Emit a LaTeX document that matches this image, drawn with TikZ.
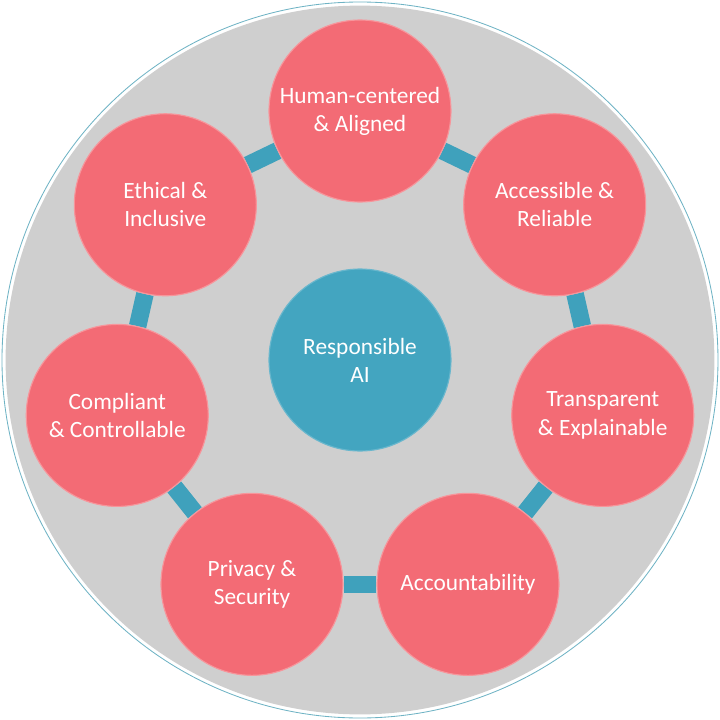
\documentclass[tikz,border=0pt]{standalone}
\usepackage{fontspec}
\setmainfont{Carlito}
\usetikzlibrary{backgrounds}
\definecolor{ringgrey}{HTML}{CFCFCF}
\definecolor{edgeteal}{HTML}{6FB3C4}
\definecolor{bandteal}{HTML}{3FA1BC}
\definecolor{coreteal}{HTML}{43A5C0}
\definecolor{petalred}{HTML}{F36B75}
\definecolor{petaledge}{HTML}{F7959B}

\tikzset{
  petal/.style={circle, fill=petalred, draw=petaledge, line width=0.8pt,
    minimum size=4.55cm, inner sep=0pt, text=white, align=center,
    font=\fontsize{16.6}{20}\selectfont},
  core/.style={petal, fill=coreteal, draw=coreteal!80!white},
  band/.style={draw=bandteal, line width=12.5pt}
}

\begin{document}
\begin{tikzpicture}[line join=round, line cap=butt]
\useasboundingbox (-9,-9) rectangle (9,9);
\coordinate (O) at (0,0);
\node[core] (ai) at (O) {Responsible\\AI};
\node[petal] (hc) at (90:6.225) {Human-centered\\\& Aligned};
\node[petal] (ar) at (38.57:6.225) {Accessible \&\\Reliable};
\node[petal] (te) at (-12.86:6.225) {Transparent\\\& Explainable};
\node[petal] (ac) at (-64.29:6.225) {Accountability};
\node[petal] (ps) at (-115.71:6.225) {Privacy \&\\Security};
\node[petal] (cc) at (-167.14:6.225) {Compliant\\\& Controllable};
\node[petal] (ei) at (141.43:6.225) {Ethical \&\\Inclusive};
\begin{scope}[on background layer]
\draw[edgeteal, line width=0.6pt] (O) circle (8.95);
\fill[ringgrey] (O) circle (8.86);
\draw[band] (hc) -- (ar);
\draw[band] (ar) -- (te);
\draw[band] (te) -- (ac);
\draw[band] (ac) -- (ps);
\draw[band] (ps) -- (cc);
\draw[band] (cc) -- (ei);
\draw[band] (ei) -- (hc);
\end{scope}
\end{tikzpicture}
\end{document}
